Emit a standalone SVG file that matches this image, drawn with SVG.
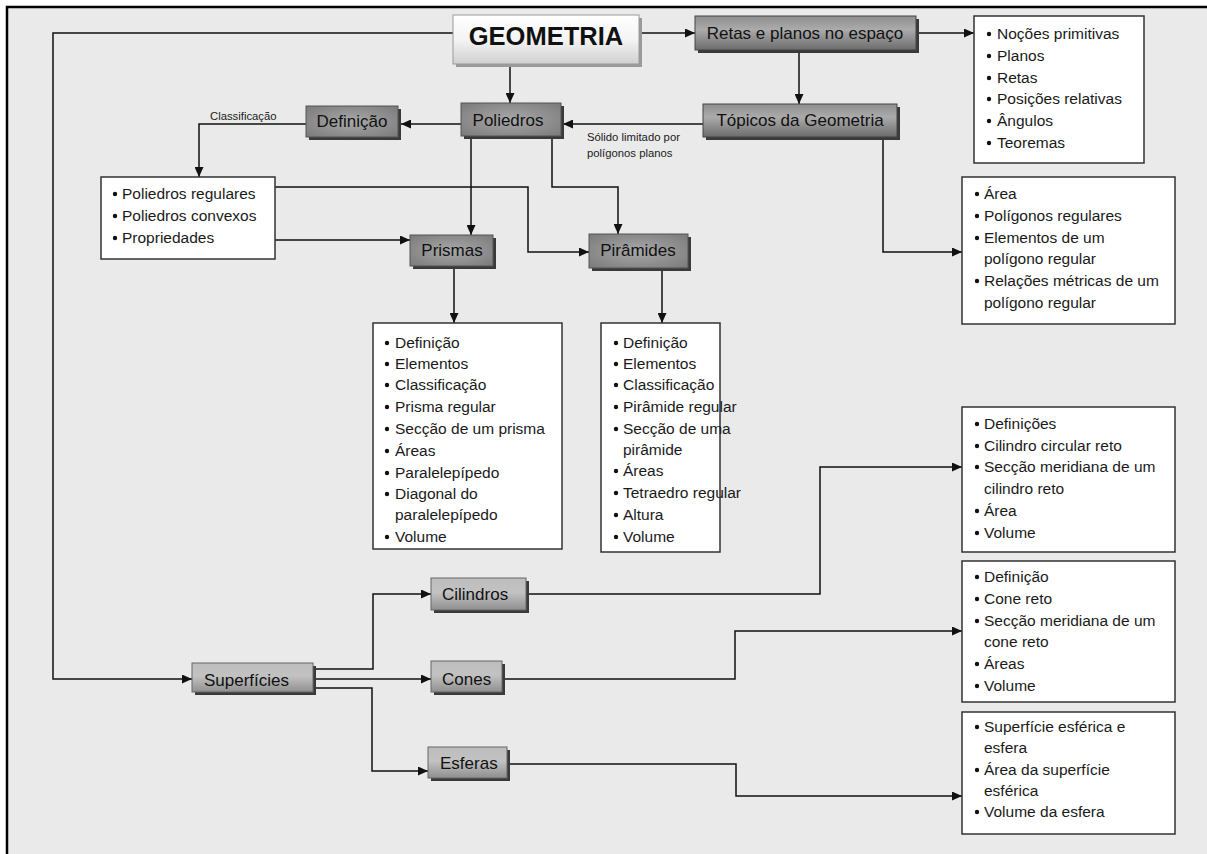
<svg xmlns="http://www.w3.org/2000/svg" width="1207" height="854" viewBox="0 0 1207 854">
  <defs>
    <marker id="arrow" markerUnits="userSpaceOnUse" markerWidth="10" markerHeight="9" refX="10" refY="4.5" orient="auto">
      <path d="M0,0 L10,4.5 L0,9 z" fill="#111"/>
    </marker>
    <linearGradient id="gTitle" x1="0" y1="0" x2="0" y2="1">
      <stop offset="0" stop-color="#ffffff"/>
      <stop offset="0.5" stop-color="#f4f4f4"/>
      <stop offset="1" stop-color="#cfcfcf"/>
    </linearGradient>
    <linearGradient id="gBar" x1="0" y1="0" x2="0" y2="1">
      <stop offset="0" stop-color="#8e8e8e"/>
      <stop offset="0.4" stop-color="#ababab"/>
      <stop offset="1" stop-color="#6c6c6c"/>
    </linearGradient>
    <radialGradient id="gDark" cx="0.5" cy="0.5" r="0.7">
      <stop offset="0" stop-color="#a9a9a9"/>
      <stop offset="1" stop-color="#7a7a7a"/>
    </radialGradient>
    <linearGradient id="gLight" x1="0" y1="0" x2="0" y2="1">
      <stop offset="0" stop-color="#bdbdbd"/>
      <stop offset="0.45" stop-color="#c2c2c2"/>
      <stop offset="1" stop-color="#8f8f8f"/>
    </linearGradient>
  </defs>
  <style>
    .edge { fill: none; stroke: #000; stroke-width: 2.5; }
    .shadow { fill: #3a3a3a; }
    .title { fill: url(#gTitle); stroke: #9a9a9a; stroke-width: 1; }
    .bar { fill: url(#gBar); stroke: #444; stroke-width: 1; }
    .dark { fill: url(#gDark); stroke: #555; stroke-width: 1; }
    .light { fill: url(#gLight); stroke: #666; stroke-width: 1; }
    .list { fill: #ffffff; stroke: #333; stroke-width: 1.5; }
    .t17 { font-family: "Liberation Sans", Arial, sans-serif; font-size: 17px; fill: #111; }
    .tc { text-anchor: middle; }
    .big { font-family: "Liberation Sans", Arial, sans-serif; font-size: 25.5px; font-weight: bold; fill: #111; text-anchor: middle; }
    .li { font-family: "Liberation Sans", Arial, sans-serif; font-size: 15.5px; fill: #1a1a1a; }
    .small { font-family: "Liberation Sans", Arial, sans-serif; font-size: 11.3px; fill: #1a1a1a; }
    .dot { fill: #111; }
    .conn { fill: none; stroke: #111; stroke-width: 1.5; }
  </style>

  <!-- page: white margin, grey panel with a rule along the top and left -->
  <rect x="0" y="0" width="1207" height="854" fill="#ffffff"/>
  <rect x="7" y="7" width="1200" height="847" fill="#eaeaea"/>
  <path class="edge" d="M7,854 V7 H1207"/>

  <!-- connectors -->
  <g id="connectors">
    <path class="conn" d="M453,33 H53 V679 H192" marker-end="url(#arrow)"/>
    <path class="conn" d="M639,33 H695" marker-end="url(#arrow)"/>
    <path class="conn" d="M919,33 H974" marker-end="url(#arrow)"/>
    <path class="conn" d="M510,64 V103" marker-end="url(#arrow)"/>
    <path class="conn" d="M799,50 V104" marker-end="url(#arrow)"/>
    <path class="conn" d="M703,124 H563" marker-end="url(#arrow)"/>
    <path class="conn" d="M461,124 H401" marker-end="url(#arrow)"/>
    <path class="conn" d="M306,124 H199 V177" marker-end="url(#arrow)"/>
    <path class="conn" d="M883,137 V252 H962" marker-end="url(#arrow)"/>
    <path class="conn" d="M471,139 V235" marker-end="url(#arrow)"/>
    <path class="conn" d="M552,139 V187 H618 V234" marker-end="url(#arrow)"/>
    <path class="conn" d="M275,187 H528 V252 H589" marker-end="url(#arrow)"/>
    <path class="conn" d="M275,240 H410" marker-end="url(#arrow)"/>
    <path class="conn" d="M454,269 V323" marker-end="url(#arrow)"/>
    <path class="conn" d="M662,268 V323" marker-end="url(#arrow)"/>
    <path class="conn" d="M313,669 H373 V594 H431" marker-end="url(#arrow)"/>
    <path class="conn" d="M313,679 H431" marker-end="url(#arrow)"/>
    <path class="conn" d="M313,688 H372 V771 H428" marker-end="url(#arrow)"/>
    <path class="conn" d="M526,594 H820 V467 H962" marker-end="url(#arrow)"/>
    <path class="conn" d="M502,679 H735 V631 H962" marker-end="url(#arrow)"/>
    <path class="conn" d="M507,764 H736 V796 H962" marker-end="url(#arrow)"/>
    <text class="small" x="210" y="120">Classificação</text>
    <text class="small" x="587" y="141">Sólido limitado por</text>
    <text class="small" x="587" y="157">polígonos planos</text>
  </g>

  <!-- title -->
  <g id="geometria">
    <rect fill="#9a9a9a" x="456" y="18" width="186" height="49"/>
    <rect class="title" x="453" y="15" width="186" height="49"/>
    <text class="big" x="546" y="45">GEOMETRIA</text>
  </g>

  <g id="retas">
    <rect class="shadow" x="698" y="19" width="221" height="34"/>
    <rect class="bar" x="695" y="16" width="221" height="34"/>
    <text class="t17 tc" x="805" y="39">Retas e planos no espaço</text>
  </g>

  <g id="topicos">
    <rect class="shadow" x="706" y="107" width="194" height="33"/>
    <rect class="bar" x="703" y="104" width="194" height="33"/>
    <text class="t17 tc" x="800" y="126">Tópicos da Geometria</text>
  </g>

  <g id="poliedros">
    <rect class="shadow" x="464" y="106" width="100" height="33"/>
    <rect class="dark" x="461" y="103" width="100" height="33"/>
    <text class="t17 tc" x="508" y="126">Poliedros</text>
  </g>

  <g id="definicao">
    <rect class="shadow" x="309" y="109" width="92" height="31"/>
    <rect class="dark" x="306" y="106" width="92" height="31"/>
    <text class="t17 tc" x="352" y="127">Definição</text>
  </g>

  <g id="prismas">
    <rect class="shadow" x="413" y="238" width="83" height="31"/>
    <rect class="dark" x="410" y="235" width="83" height="31"/>
    <text class="t17 tc" x="452" y="256">Prismas</text>
  </g>

  <g id="piramides">
    <rect class="shadow" x="592" y="237" width="99" height="34"/>
    <rect class="dark" x="589" y="234" width="99" height="34"/>
    <text class="t17 tc" x="638" y="256">Pirâmides</text>
  </g>

  <g id="superficies">
    <rect class="shadow" x="195" y="666" width="121" height="29"/>
    <rect class="light" x="192" y="663" width="121" height="29"/>
    <text class="t17" x="204" y="686">Superfícies</text>
  </g>

  <g id="cilindros">
    <rect class="shadow" x="434" y="581" width="95" height="32"/>
    <rect class="light" x="431" y="578" width="95" height="32"/>
    <text class="t17" x="442" y="600">Cilindros</text>
  </g>

  <g id="cones">
    <rect class="shadow" x="434" y="664" width="71" height="31"/>
    <rect class="light" x="431" y="661" width="71" height="31"/>
    <text class="t17" x="442" y="685">Cones</text>
  </g>

  <g id="esferas">
    <rect class="shadow" x="431" y="750" width="79" height="31"/>
    <rect class="light" x="428" y="747" width="79" height="31"/>
    <text class="t17" x="440" y="769">Esferas</text>
  </g>

  <!-- bullet lists -->
  <g id="lista-retas">
    <rect class="list" x="974" y="16" width="170" height="147"/>
    <circle class="dot" cx="989" cy="34" r="2.2"/>
    <circle class="dot" cx="989" cy="56" r="2.2"/>
    <circle class="dot" cx="989" cy="78" r="2.2"/>
    <circle class="dot" cx="989" cy="99" r="2.2"/>
    <circle class="dot" cx="989" cy="121" r="2.2"/>
    <circle class="dot" cx="989" cy="143" r="2.2"/>
    <text class="li" x="997" y="39">Noções primitivas</text>
    <text class="li" x="997" y="61">Planos</text>
    <text class="li" x="997" y="83">Retas</text>
    <text class="li" x="997" y="104">Posições relativas</text>
    <text class="li" x="997" y="126">Ângulos</text>
    <text class="li" x="997" y="148">Teoremas</text>
  </g>

  <g id="lista-poliedros">
    <rect class="list" x="101" y="177" width="174" height="82"/>
    <circle class="dot" cx="115" cy="194" r="2.2"/>
    <circle class="dot" cx="115" cy="216" r="2.2"/>
    <circle class="dot" cx="115" cy="238" r="2.2"/>
    <text class="li" x="122" y="199">Poliedros regulares</text>
    <text class="li" x="122" y="221">Poliedros convexos</text>
    <text class="li" x="122" y="243">Propriedades</text>
  </g>

  <g id="lista-topicos">
    <rect class="list" x="962" y="177" width="213" height="147"/>
    <circle class="dot" cx="977" cy="194" r="2.2"/>
    <circle class="dot" cx="977" cy="216" r="2.2"/>
    <circle class="dot" cx="977" cy="238" r="2.2"/>
    <circle class="dot" cx="977" cy="281" r="2.2"/>
    <text class="li" x="984" y="199">Área</text>
    <text class="li" x="984" y="221">Polígonos regulares</text>
    <text class="li" x="984" y="243">Elementos de um</text>
    <text class="li" x="984" y="264">polígono regular</text>
    <text class="li" x="984" y="286">Relações métricas de um</text>
    <text class="li" x="984" y="308">polígono regular</text>
  </g>

  <g id="lista-prismas">
    <rect class="list" x="373" y="323" width="189" height="226"/>
    <circle class="dot" cx="387" cy="343" r="2.2"/>
    <circle class="dot" cx="387" cy="364" r="2.2"/>
    <circle class="dot" cx="387" cy="385" r="2.2"/>
    <circle class="dot" cx="387" cy="407" r="2.2"/>
    <circle class="dot" cx="387" cy="429" r="2.2"/>
    <circle class="dot" cx="387" cy="451" r="2.2"/>
    <circle class="dot" cx="387" cy="473" r="2.2"/>
    <circle class="dot" cx="387" cy="494" r="2.2"/>
    <circle class="dot" cx="387" cy="537" r="2.2"/>
    <text class="li" x="395" y="348">Definição</text>
    <text class="li" x="395" y="369">Elementos</text>
    <text class="li" x="395" y="390">Classificação</text>
    <text class="li" x="395" y="412">Prisma regular</text>
    <text class="li" x="395" y="434">Secção de um prisma</text>
    <text class="li" x="395" y="456">Áreas</text>
    <text class="li" x="395" y="478">Paralelepípedo</text>
    <text class="li" x="395" y="499">Diagonal do</text>
    <text class="li" x="395" y="520">paralelepípedo</text>
    <text class="li" x="395" y="542">Volume</text>
  </g>

  <g id="lista-piramides">
    <rect class="list" x="601" y="323" width="119" height="229"/>
    <circle class="dot" cx="616" cy="343" r="2.2"/>
    <circle class="dot" cx="616" cy="364" r="2.2"/>
    <circle class="dot" cx="616" cy="385" r="2.2"/>
    <circle class="dot" cx="616" cy="407" r="2.2"/>
    <circle class="dot" cx="616" cy="429" r="2.2"/>
    <circle class="dot" cx="616" cy="471" r="2.2"/>
    <circle class="dot" cx="616" cy="493" r="2.2"/>
    <circle class="dot" cx="616" cy="515" r="2.2"/>
    <circle class="dot" cx="616" cy="537" r="2.2"/>
    <text class="li" x="623" y="348">Definição</text>
    <text class="li" x="623" y="369">Elementos</text>
    <text class="li" x="623" y="390">Classificação</text>
    <text class="li" x="623" y="412">Pirâmide regular</text>
    <text class="li" x="623" y="434">Secção de uma</text>
    <text class="li" x="623" y="455">pirâmide</text>
    <text class="li" x="623" y="476">Áreas</text>
    <text class="li" x="623" y="498">Tetraedro regular</text>
    <text class="li" x="623" y="520">Altura</text>
    <text class="li" x="623" y="542">Volume</text>
  </g>

  <g id="lista-cilindros">
    <rect class="list" x="962" y="407" width="213" height="145"/>
    <circle class="dot" cx="977" cy="424" r="2.2"/>
    <circle class="dot" cx="977" cy="446" r="2.2"/>
    <circle class="dot" cx="977" cy="467" r="2.2"/>
    <circle class="dot" cx="977" cy="511" r="2.2"/>
    <circle class="dot" cx="977" cy="533" r="2.2"/>
    <text class="li" x="984" y="429">Definições</text>
    <text class="li" x="984" y="451">Cilindro circular reto</text>
    <text class="li" x="984" y="472">Secção meridiana de um</text>
    <text class="li" x="984" y="494">cilindro reto</text>
    <text class="li" x="984" y="516">Área</text>
    <text class="li" x="984" y="538">Volume</text>
  </g>

  <g id="lista-cones">
    <rect class="list" x="962" y="561" width="213" height="141"/>
    <circle class="dot" cx="977" cy="577" r="2.2"/>
    <circle class="dot" cx="977" cy="599" r="2.2"/>
    <circle class="dot" cx="977" cy="621" r="2.2"/>
    <circle class="dot" cx="977" cy="664" r="2.2"/>
    <circle class="dot" cx="977" cy="686" r="2.2"/>
    <text class="li" x="984" y="582">Definição</text>
    <text class="li" x="984" y="604">Cone reto</text>
    <text class="li" x="984" y="626">Secção meridiana de um</text>
    <text class="li" x="984" y="647">cone reto</text>
    <text class="li" x="984" y="669">Áreas</text>
    <text class="li" x="984" y="691">Volume</text>
  </g>

  <g id="lista-esferas">
    <rect class="list" x="962" y="712" width="213" height="122"/>
    <circle class="dot" cx="977" cy="727" r="2.2"/>
    <circle class="dot" cx="977" cy="770" r="2.2"/>
    <circle class="dot" cx="977" cy="812" r="2.2"/>
    <text class="li" x="984" y="732">Superfície esférica e</text>
    <text class="li" x="984" y="753">esfera</text>
    <text class="li" x="984" y="775">Área da superfície</text>
    <text class="li" x="984" y="796">esférica</text>
    <text class="li" x="984" y="817">Volume da esfera</text>
  </g>
</svg>
